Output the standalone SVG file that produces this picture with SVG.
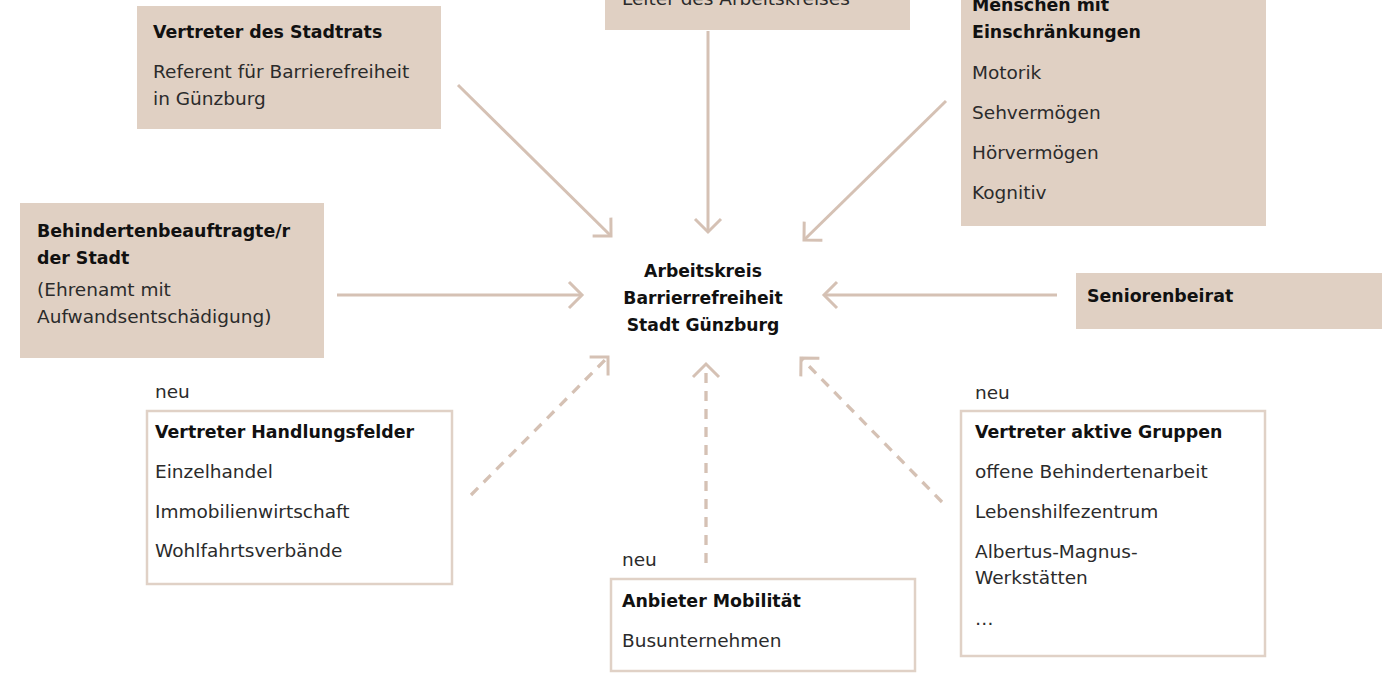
<svg xmlns="http://www.w3.org/2000/svg" width="1382" height="673" viewBox="0 0 1382 673">
<style>
.fill{fill:#e0d0c3;stroke:none}
.open{fill:#fff;stroke:#e0d1c6;stroke-width:2.5}
.t{font-family:"DejaVu Sans","Liberation Sans",sans-serif;font-size:17.4px;font-weight:bold;fill:#111}
.b{font-family:"DejaVu Sans","Liberation Sans",sans-serif;font-size:18.5px;fill:#2b2b2b}
.c{font-family:"DejaVu Sans","Liberation Sans",sans-serif;font-size:17.2px;font-weight:bold;fill:#111;text-anchor:middle}
.ln{fill:none;stroke:#d5c1b4;stroke-width:3}
.dash{stroke-dasharray:10 8;stroke-width:3.3}
</style>
<defs>
<marker id="ah" markerUnits="userSpaceOnUse" markerWidth="32" markerHeight="32" refX="16" refY="16" orient="auto" overflow="visible">
<polyline points="3,3 16,16 3,29" fill="none" stroke="#d5c1b4" stroke-width="3"/>
</marker>
</defs>
<rect width="1382" height="673" fill="#fff"/>

<g id="connectors">
<line class="ln" x1="458" y1="85" x2="611" y2="236" marker-end="url(#ah)"/>
<line class="ln" x1="708" y1="31" x2="708" y2="232" marker-end="url(#ah)"/>
<line class="ln" x1="946" y1="101" x2="804" y2="240" marker-end="url(#ah)"/>
<line class="ln" x1="337" y1="295" x2="582" y2="295" marker-end="url(#ah)"/>
<line class="ln" x1="1057" y1="295" x2="824" y2="295" marker-end="url(#ah)"/>
<line class="ln dash" x1="471" y1="495" x2="608" y2="357" marker-end="url(#ah)"/>
<line class="ln dash" x1="706" y1="563" x2="706" y2="364" marker-end="url(#ah)"/>
<line class="ln dash" x1="942" y1="502" x2="801" y2="358" marker-end="url(#ah)"/>
</g>

<g id="node-stadtrat">
<rect class="fill" x="137" y="6" width="304" height="123"/>
<text class="t" x="153" y="38">Vertreter des Stadtrats</text>
<text class="b" x="153" y="78">Referent für Barrierefreiheit</text>
<text class="b" x="153" y="105">in Günzburg</text>
</g>

<g id="node-leiter">
<rect class="fill" x="605" y="-40" width="305" height="70"/>
<text class="b" x="622" y="5">Leiter des Arbeitskreises</text>
</g>

<g id="node-menschen">
<rect class="fill" x="961" y="-40" width="305" height="266"/>
<text class="t" x="972" y="11">Menschen mit</text>
<text class="t" x="972" y="38">Einschränkungen</text>
<text class="b" x="972" y="79">Motorik</text>
<text class="b" x="972" y="119">Sehvermögen</text>
<text class="b" x="972" y="159">Hörvermögen</text>
<text class="b" x="972" y="199">Kognitiv</text>
</g>

<g id="node-behinderten">
<rect class="fill" x="20" y="203" width="304" height="155"/>
<text class="t" x="37" y="237">Behindertenbeauftragte/r</text>
<text class="t" x="37" y="264">der Stadt</text>
<text class="b" x="37" y="296">(Ehrenamt mit</text>
<text class="b" x="37" y="323">Aufwandsentschädigung)</text>
</g>

<g id="node-center">
<text class="c" x="703" y="277">Arbeitskreis</text>
<text class="c" x="703" y="304">Barrierrefreiheit</text>
<text class="c" x="703" y="331">Stadt Günzburg</text>
</g>

<g id="node-senioren">
<rect class="fill" x="1076" y="273" width="306" height="56"/>
<text class="t" x="1087" y="302">Seniorenbeirat</text>
</g>

<g id="node-handlungsfelder">
<text class="b" x="155" y="398">neu</text>
<rect class="open" x="147" y="411" width="305" height="173"/>
<text class="t" x="155" y="438">Vertreter Handlungsfelder</text>
<text class="b" x="155" y="478">Einzelhandel</text>
<text class="b" x="155" y="518">Immobilienwirtschaft</text>
<text class="b" x="155" y="557">Wohlfahrtsverbände</text>
</g>

<g id="node-mobilitaet">
<text class="b" x="622" y="566">neu</text>
<rect class="open" x="611" y="579" width="304" height="92"/>
<text class="t" x="622" y="607">Anbieter Mobilität</text>
<text class="b" x="622" y="647">Busunternehmen</text>
</g>

<g id="node-gruppen">
<text class="b" x="975" y="399">neu</text>
<rect class="open" x="961" y="411" width="304" height="245"/>
<text class="t" x="975" y="438">Vertreter aktive Gruppen</text>
<text class="b" x="975" y="478">offene Behindertenarbeit</text>
<text class="b" x="975" y="518">Lebenshilfezentrum</text>
<text class="b" x="975" y="558">Albertus-Magnus-</text>
<text class="b" x="975" y="584">Werkstätten</text>
<text class="b" x="975" y="625">…</text>
</g>
</svg>
